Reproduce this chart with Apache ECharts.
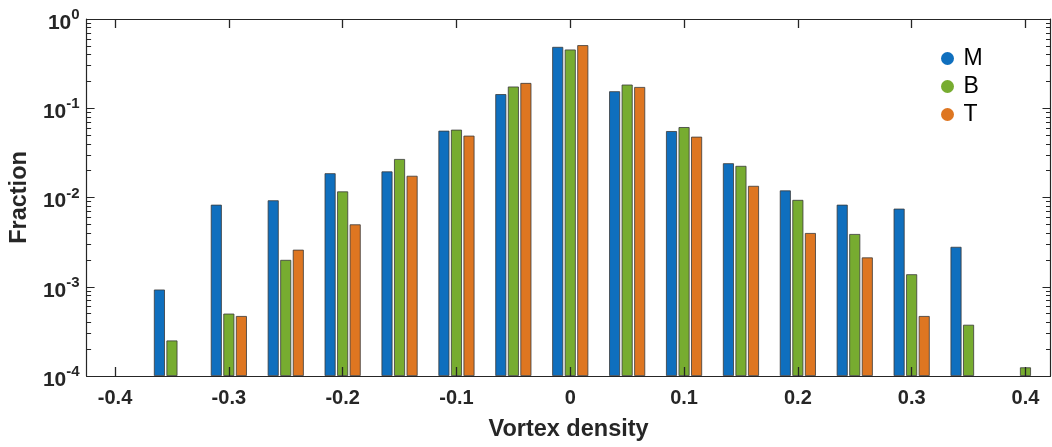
<!DOCTYPE html>
<html>
<head>
<meta charset="utf-8">
<script src="https://cdn.jsdelivr.net/npm/echarts@6/dist/echarts.min.js"></script>
<style>
    html, body { margin: 0; padding: 0; background: #fff; }
    #chart { width: 1052px; height: 447px; }
</style>
</head>
<body>
<div id="chart"></div>
<script>
// 涡旋密度分布 -- 三组分组柱状图（对数纵轴）
const densities = [-0.35, -0.3, -0.25, -0.2, -0.15, -0.1, -0.05, 0, 0.05, 0.1, 0.15, 0.2, 0.25, 0.3, 0.35, 0.4];
const valuesM = [9.3e-4, 8.3e-3, 9.3e-3, 1.87e-2, 1.96e-2, 5.6e-2, 0.144, 0.487, 0.155, 5.55e-2, 2.42e-2, 1.2e-2, 8.3e-3, 7.5e-3, 2.8e-3, null];
const valuesB = [2.5e-4, 5.0e-4, 2.0e-3, 1.17e-2, 2.7e-2, 5.75e-2, 0.175, 0.455, 0.184, 6.15e-2, 2.26e-2, 9.4e-3, 3.9e-3, 1.38e-3, 3.75e-4, 1.25e-4];
const valuesT = [null, 4.7e-4, 2.6e-3, 5.0e-3, 1.75e-2, 4.93e-2, 0.192, 0.509, 0.173, 4.8e-2, 1.35e-2, 4.0e-3, 2.13e-3, 4.7e-4, null, null];
const xTicks = [-0.4, -0.3, -0.2, -0.1, 0, 0.1, 0.2, 0.3, 0.4];
const yTicks = [1e-4, 1e-3, 1e-2, 1e-1, 1];
const seriesNames = ['M', 'B', 'T'];
const seriesColors = ['#0F6FBE', '#77AC30', '#DE7621'];

// 对数轴的次刻度 2..9 x 10^k
const minorTicks = [];
for (let k = -4; k < 0; k++) {
    for (let m = 2; m <= 9; m++) {
        minorTicks.push(m * Math.pow(10, k));
    }
}

const axisColor = '#262626';
const font = 'Liberation Sans, Arial, sans-serif';

function toPairs(values) { //[x, y] 数据点，空值跳过
    const out = [];
    values.forEach(function (v, i) {
        if (v != null) out.push([densities[i], v]);
    });
    return out;
}

function xAxisOf(position, showLabel) {
    return {
        type: 'value',
        position: position,
        min: -0.425,
        max: 0.422,
        z: 5,
        axisLine: { show: true, onZero: false, lineStyle: { color: axisColor, width: 1.2 } },
        axisTick: { show: true, inside: true, length: 9, customValues: xTicks, lineStyle: { color: axisColor, width: 1.3 } },
        axisLabel: {
            show: showLabel,
            customValues: xTicks,
            margin: 12,
            color: axisColor,
            fontFamily: font,
            fontWeight: 'bold',
            fontSize: 20
        },
        splitLine: { show: false },
        name: showLabel ? 'Vortex density' : '',
        nameLocation: 'middle',
        nameGap: 42,
        nameTextStyle: { color: axisColor, fontFamily: font, fontWeight: 'bold', fontSize: 23.5 }
    };
}

function yAxisOf(position, major, showLabel, showLine) {
    return {
        type: 'log',
        logBase: 10,
        position: position,
        min: 1e-4,
        max: 1,
        startValue: 1e-4,
        z: 5,
        axisLine: { show: showLine, onZero: false, lineStyle: { color: axisColor, width: 1.2 } },
        axisTick: {
            show: true,
            inside: true,
            length: major ? 8 : 4.5,
            customValues: major ? yTicks : minorTicks,
            lineStyle: { color: axisColor, width: 1 }
        },
        axisLabel: {
            show: showLabel,
            customValues: yTicks,
            margin: 7,
            formatter: function (v) {
                const e = Math.round(Math.log10(v));
                return '{b|10}{e|' + e + '}';
            },
            rich: {
                b: { fontFamily: font, fontWeight: 'bold', fontSize: 21, color: axisColor, padding: [8, 0, 0, 0] },
                e: { fontFamily: font, fontWeight: 'bold', fontSize: 15, color: axisColor, padding: [0, 0, 8, 0] }
            }
        },
        splitLine: { show: false },
        name: showLabel ? 'Fraction' : '',
        nameLocation: 'middle',
        nameGap: 53,
        nameTextStyle: { color: axisColor, fontFamily: font, fontWeight: 'bold', fontSize: 23.5 }
    };
}

const my_echart = echarts.init(document.getElementById('chart'));
let option = {
    animation: false,
    grid: { left: 86, right: 1.5, top: 19, bottom: 69, containLabel: false },
    legend: {
        orient: 'vertical',
        left: 936,
        top: 42,
        icon: 'circle',
        itemWidth: 22,
        itemHeight: 13,
        itemGap: 5,
        itemStyle: { borderWidth: 0 },
        textStyle: { fontFamily: font, fontSize: 23, color: '#000' },
        data: seriesNames
    },
    xAxis: [xAxisOf('bottom', true), xAxisOf('top', false)],
    yAxis: [
        yAxisOf('left', true, true, true),
        yAxisOf('left', false, false, false),
        yAxisOf('right', true, false, true),
        yAxisOf('right', false, false, false)
    ],
    series: [valuesM, valuesB, valuesT].map(function (vals, i) {
        return {
            name: seriesNames[i],
            type: 'bar',
            xAxisIndex: 0,
            yAxisIndex: 0,
            barWidth: 11,
            barGap: '14%',
            z: 2,
            itemStyle: { color: seriesColors[i], borderColor: '#3a3a3a', borderWidth: 0.8 },
            data: toPairs(vals)
        };
    })
}; //配置项
my_echart.setOption(option);
window.addEventListener('resize', function () {
    my_echart.resize();
});
</script>
</body>
</html>
